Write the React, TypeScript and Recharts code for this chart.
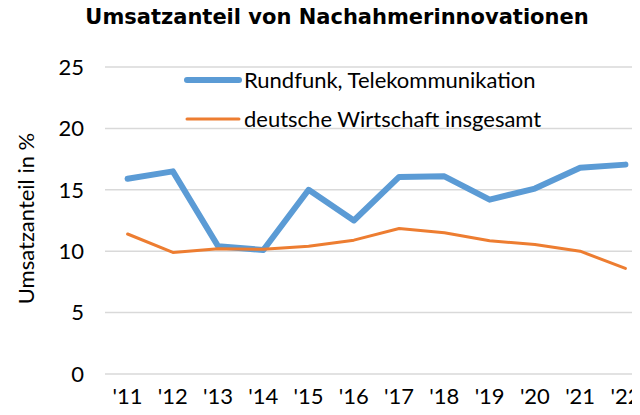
import { LineChart, Line, XAxis, YAxis, CartesianGrid, Legend } from "recharts";

const years = ["'11", "'12", "'13", "'14", "'15", "'16", "'17", "'18", "'19", "'20", "'21", "'22"];
const rundfunk = [15.9, 16.5, 10.4, 10.1, 15.0, 12.5, 16.05, 16.1, 14.2, 15.1, 16.8, 17.05];
const gesamt = [11.4, 9.9, 10.2, 10.15, 10.4, 10.9, 11.85, 11.5, 10.85, 10.55, 10.0, 8.6];
const yTicks = [0, 5, 10, 15, 20, 25];

const seriesNames = ["Rundfunk, Telekommunikation", "deutsche Wirtschaft insgesamt"];
const colors = ["#5b9bd5", "#ed7d31"];
const widths = [6, 3];

const data = years.map((y, i) => ({ year: y, a: rundfunk[i], b: gesamt[i] }));

const font = "Lato, sans-serif";
const fs = 22;

function LegendBox() {
  return (
    <div style={{ fontFamily: font, fontSize: fs, color: "#000" }}>
      {seriesNames.map((n, i) => (
        <div key={n} style={{ display: "flex", alignItems: "center", height: 39 }}>
          <svg width={58} height={10} style={{ marginRight: 2 }}>
            <line x1={3} y1={5} x2={55} y2={5} stroke={colors[i]} strokeWidth={widths[i]} strokeLinecap="round" />
          </svg>
          <span>{n}</span>
        </div>
      ))}
    </div>
  );
}

export default function App() {
  return (
    <div
      style={{
        position: "relative",
        width: 640,
        height: 415,
        overflow: "hidden",
        margin: -8,
        background: "#fff",
      }}
    >
      <div
        style={{
          position: "absolute",
          top: 5,
          left: 337,
          transform: "translateX(-50%)",
          whiteSpace: "nowrap",
          fontFamily: "'DejaVu Sans', Verdana, sans-serif",
          fontWeight: "bold",
          fontSize: 21,
          color: "#000",
        }}
      >
        Umsatzanteil von Nachahmerinnovationen
      </div>
      <div style={{ position: "absolute", top: 0, left: 0 }}>
        <LineChart width={660} height={415} data={data} margin={{ top: 67, right: 12, bottom: 0, left: 0 }}>
          <CartesianGrid vertical={false} stroke="#d9d9d9" strokeWidth={1.5} />
          <XAxis
            dataKey="year"
            height={41}
            axisLine={false}
            tickLine={false}
            tickSize={0}
            tickMargin={14}
            padding={{ left: 22.6, right: 22.6 }}
            interval={0}
            tick={{ fill: "#000", fontSize: fs, fontFamily: font }}
          />
          <YAxis
            width={105}
            domain={[0, 25]}
            ticks={yTicks}
            axisLine={false}
            tickLine={false}
            tickSize={0}
            tickMargin={21}
            tick={{ fill: "#000", fontSize: fs, fontFamily: font }}
            label={{
              content: ({ viewBox }: any) => {
                const cx = viewBox.x + 25;
                const cy = viewBox.y + viewBox.height / 2 - 2;
                return (
                  <text
                    x={cx}
                    y={cy}
                    transform={`rotate(-90 ${cx} ${cy})`}
                    textAnchor="middle"
                    dominantBaseline="central"
                    fontSize={fs}
                    fontFamily={font}
                    fill="#000"
                  >
                    Umsatzanteil in %
                  </text>
                );
              },
            }}
          />
          <Legend
            layout="horizontal"
            verticalAlign="middle"
            content={<LegendBox />}
            wrapperStyle={{ top: 60, left: 184, width: "auto" }}
          />
          <Line
            dataKey="a"
            name={seriesNames[0]}
            stroke={colors[0]}
            strokeWidth={widths[0]}
            strokeLinecap="round"
            strokeLinejoin="round"
            dot={false}
            activeDot={false}
            isAnimationActive={false}
          />
          <Line
            dataKey="b"
            name={seriesNames[1]}
            stroke={colors[1]}
            strokeWidth={widths[1]}
            strokeLinecap="round"
            strokeLinejoin="round"
            dot={false}
            activeDot={false}
            isAnimationActive={false}
          />
        </LineChart>
      </div>
    </div>
  );
}
